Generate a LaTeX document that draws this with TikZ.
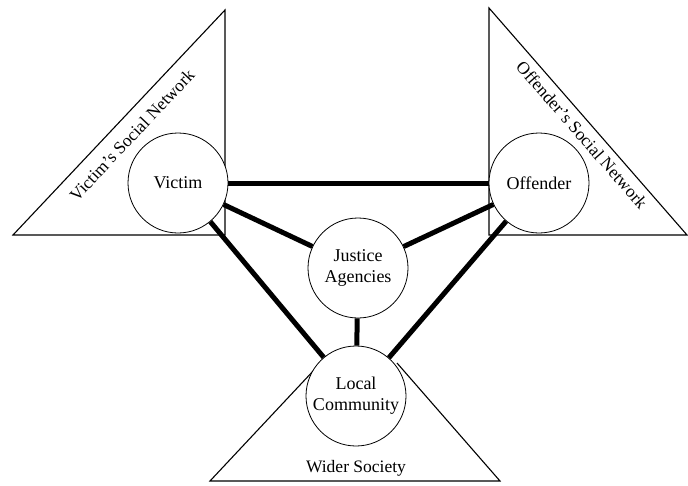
\documentclass[tikz,border=0pt]{standalone}
\usepackage{fontspec}
\setmainfont{Liberation Serif}
\usepackage{tikz}
\usetikzlibrary{positioning,calc}

\begin{document}
\begin{tikzpicture}[x=1pt, y=-1pt,
  party/.style={circle, draw, line width=0.8pt, fill=white, minimum size=100pt,
                inner sep=0pt, font=\fontsize{18}{21}\selectfont, align=center},
  network/.style={draw, line width=1.1pt, line join=miter},
  link/.style={line width=5pt},
  caption/.style={font=\fontsize{17.5}{21}\selectfont, inner sep=0pt}]

  \useasboundingbox (0,0) rectangle (688,485);

  % Networks
  \coordinate (wl) at (315,369);
  \coordinate (wr) at (397,363);
  \draw[network] (225,10) -- (13,235) -- (225,235) -- cycle;
  \draw[network] (489,8) -- (687,235) -- (489,235) -- cycle;
  \draw[network] (wl) -- (210,481) -- (500,481) -- (wr);

  \node[caption, rotate=46.7] (vnet) at (132,135) {Victim's Social Network};
  \node[caption, rotate=-48.8] (onet) at (582,135) {Offender's Social Network};
  \node[caption] (society) at (356,468) {Wider Society};

  % Parties
  \node[party] (victim) at (178,183) {Victim};
  \node[party] (offender) at (539,183) {Offender};
  \node[party] (justice) at (358,268) {Justice\\Agencies};
  \node[party] (community) at (356,396) {Local\\Community};

  % Links
  \draw[link] (victim) -- (offender);
  \draw[link] (victim) -- (justice);
  \draw[link] (victim) -- (community);
  \draw[link] (offender) -- (justice);
  \draw[link] (offender) -- (community);
  \draw[link] (justice) -- (community);
\end{tikzpicture}
\end{document}
